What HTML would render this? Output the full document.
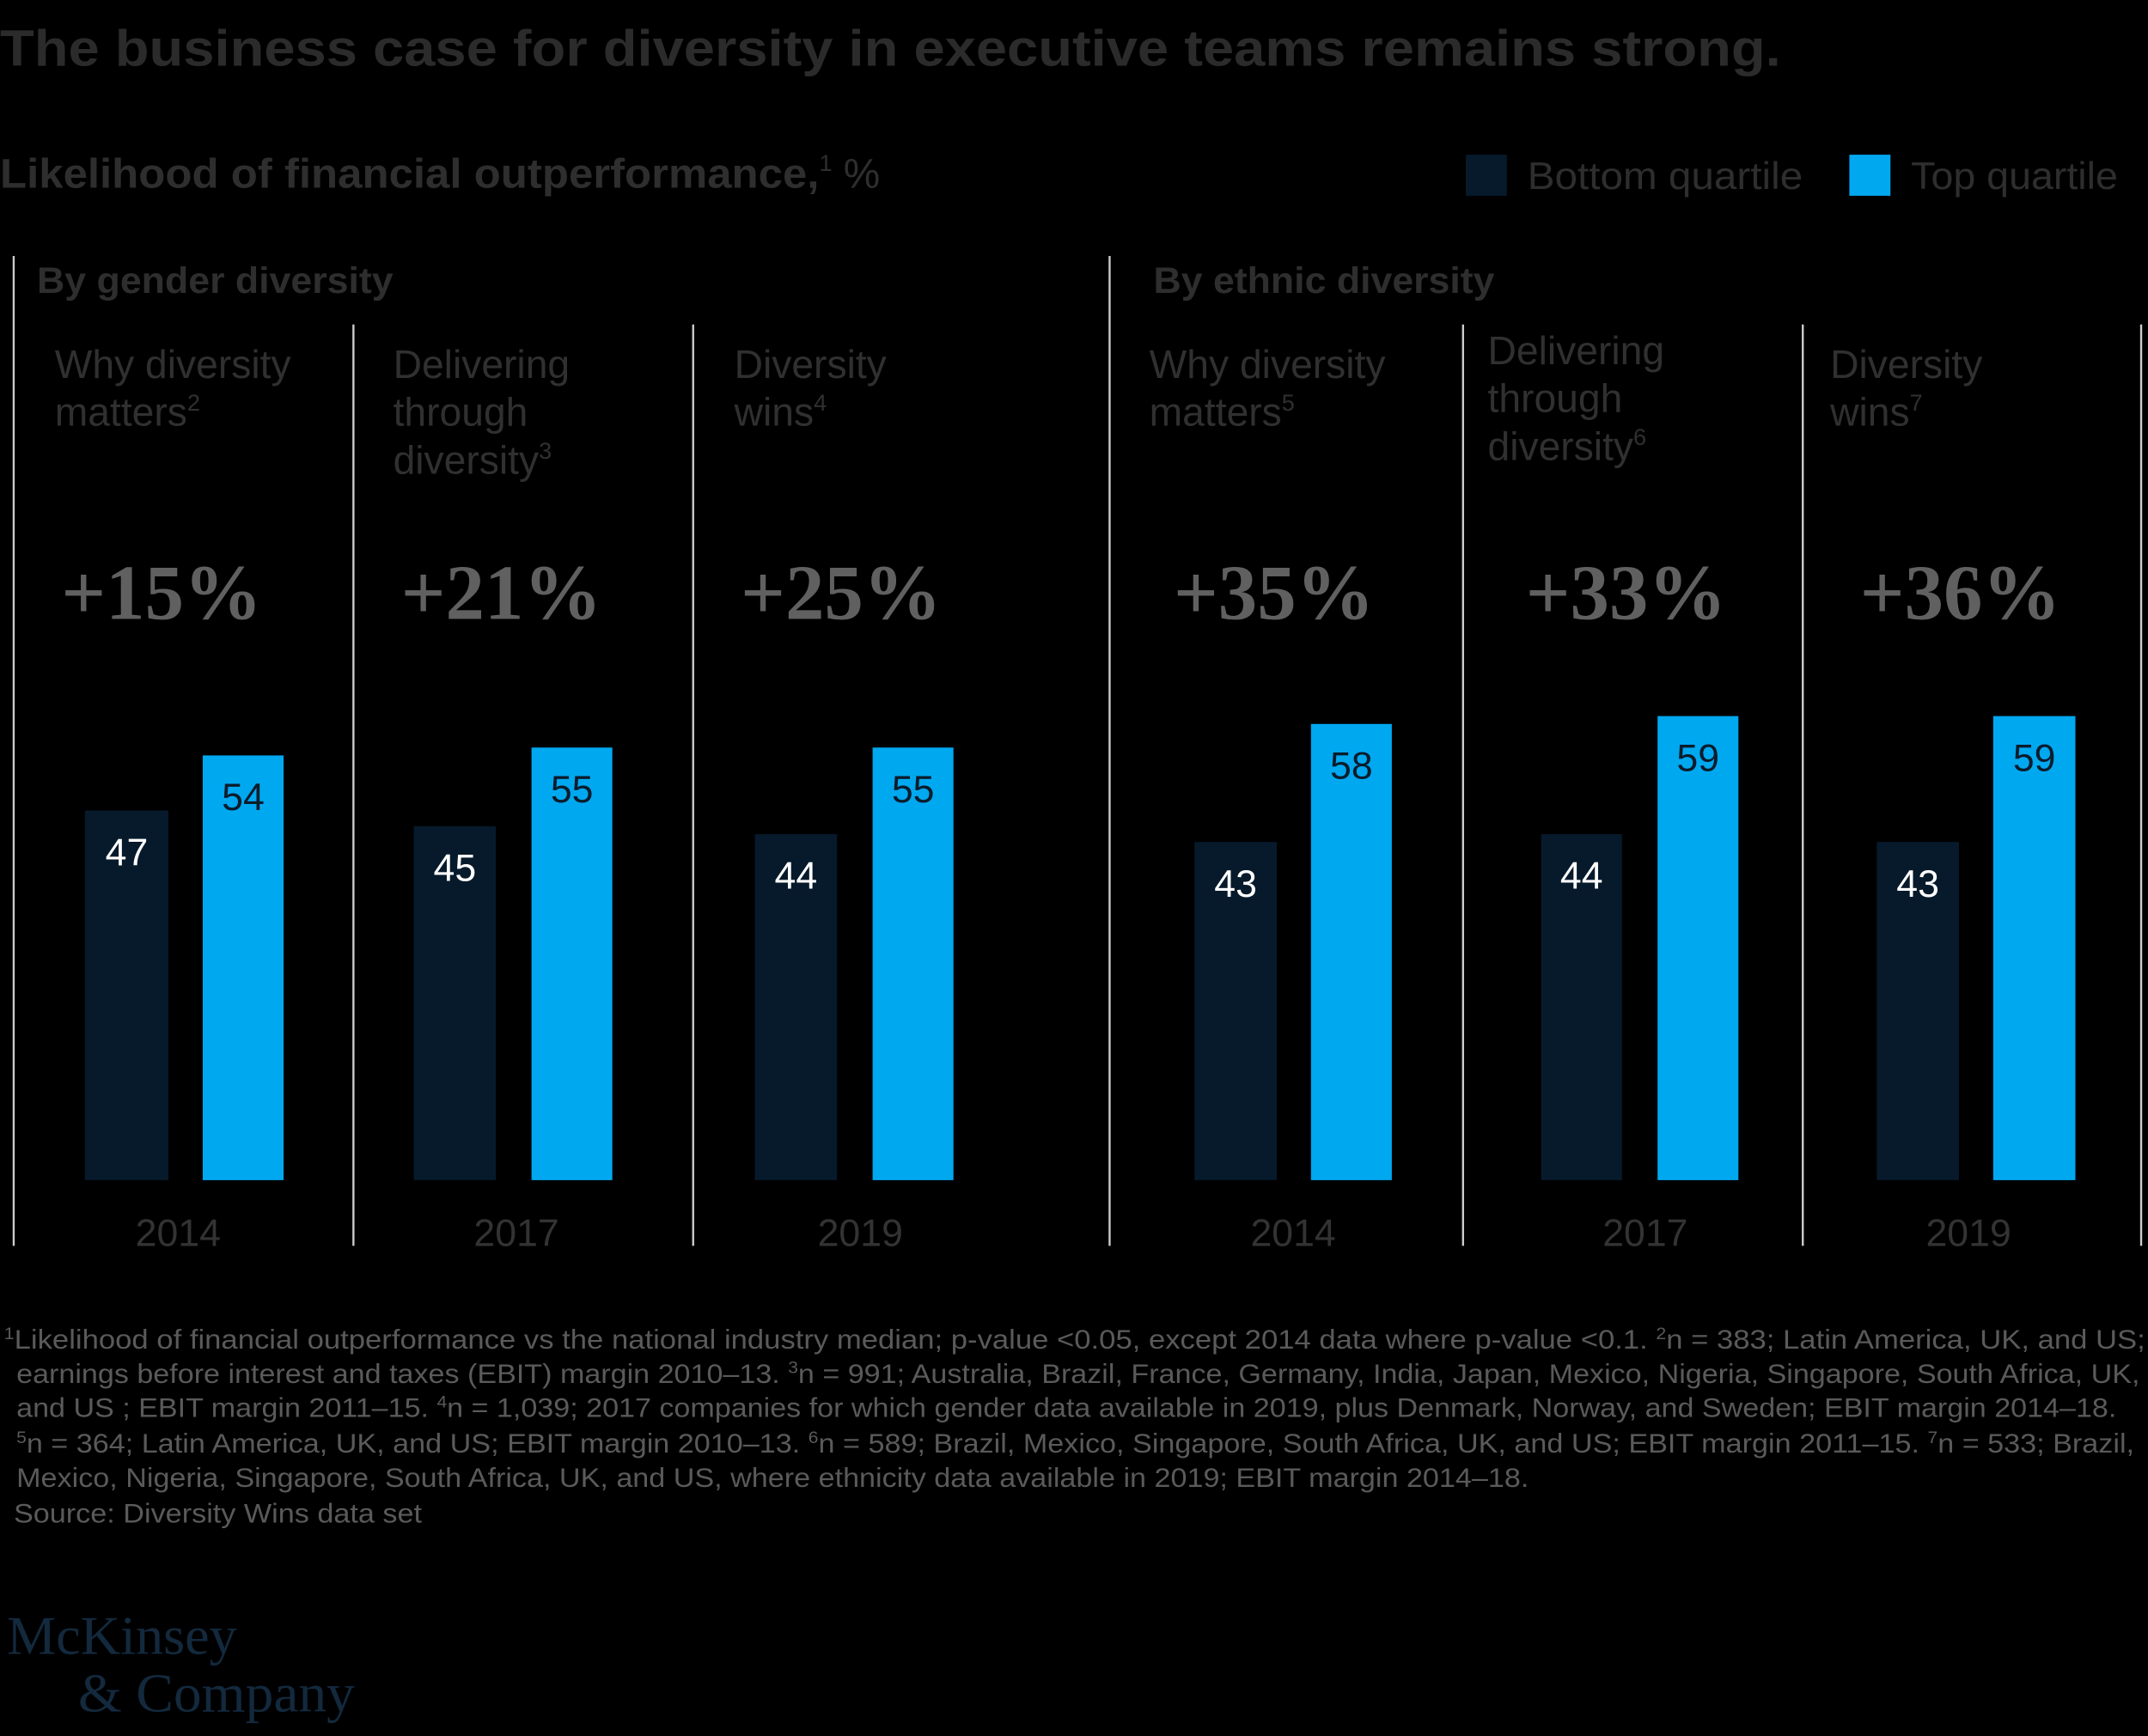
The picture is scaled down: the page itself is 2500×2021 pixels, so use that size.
<!DOCTYPE html>
<html><head><meta charset="utf-8"><style>
html,body{margin:0;padding:0;background:#000;}
svg{display:block;}
</style></head><body>
<svg id="chart" width="2500" height="2021" viewBox="0 0 1568 1268" preserveAspectRatio="none" xmlns="http://www.w3.org/2000/svg" font-family="'Liberation Sans', sans-serif">
<rect width="1568" height="1268" fill="#000"/>
<text x="0" y="48" font-size="37" font-weight="bold" fill="#2b2b2b" textLength="1300" lengthAdjust="spacingAndGlyphs">The business case for diversity in executive teams remains strong.</text>
<text x="0" y="137" font-size="30" font-weight="bold" fill="#2e2e2e"><tspan textLength="598" lengthAdjust="spacingAndGlyphs">Likelihood of financial outperformance,</tspan><tspan font-size="17" font-weight="normal" dy="-12">1</tspan><tspan font-weight="normal" dy="12"> %</tspan></text>
<g>
<rect x="1070" y="113" width="30" height="30" fill="#061a2b"/>
<text x="1115" y="138" font-size="28" fill="#2e2e2e" textLength="201" lengthAdjust="spacingAndGlyphs">Bottom quartile</text>
<rect x="1350" y="113" width="30" height="30" fill="#00a8f0"/>
<text x="1395" y="138" font-size="28" fill="#2e2e2e" textLength="151" lengthAdjust="spacingAndGlyphs">Top quartile</text>
</g>
<text x="27" y="214" font-size="27" font-weight="bold" fill="#2e2e2e" textLength="260" lengthAdjust="spacingAndGlyphs">By gender diversity</text>
<text x="842" y="214" font-size="27" font-weight="bold" fill="#2e2e2e" textLength="249" lengthAdjust="spacingAndGlyphs">By ethnic diversity</text>
<g id="dividers"></g>
<g id="panels"></g>
<g font-size="19.5" fill="#5a5a5a">
<text x="3" y="985" textLength="1563" lengthAdjust="spacingAndGlyphs"><tspan font-size="12" dy="-7">1</tspan><tspan dy="7">Likelihood of financial outperformance vs the national industry median; p-value &lt;0.05, except 2014 data where p-value &lt;0.1.  </tspan><tspan font-size="12" dy="-7">2</tspan><tspan dy="7">n = 383; Latin America, UK, and US;</tspan></text>
<text x="12" y="1010" textLength="1550" lengthAdjust="spacingAndGlyphs">earnings before interest and taxes (EBIT) margin 2010–13. <tspan font-size="12" dy="-7">3</tspan><tspan dy="7">n = 991; Australia, Brazil, France, Germany, India, Japan, Mexico, Nigeria, Singapore, South Africa, UK,</tspan></text>
<text x="12" y="1035" textLength="1533" lengthAdjust="spacingAndGlyphs">and US ; EBIT margin 2011–15. <tspan font-size="12" dy="-7">4</tspan><tspan dy="7">n = 1,039; 2017 companies for which gender data available in 2019, plus Denmark, Norway, and Sweden;  EBIT margin 2014–18.</tspan></text>
<text x="12" y="1061" textLength="1546" lengthAdjust="spacingAndGlyphs"><tspan font-size="12" dy="-7">5</tspan><tspan dy="7">n = 364; Latin America, UK, and US; EBIT margin 2010–13. </tspan><tspan font-size="12" dy="-7">6</tspan><tspan dy="7">n = 589; Brazil, Mexico, Singapore, South Africa, UK, and US; EBIT margin 2011–15. </tspan><tspan font-size="12" dy="-7">7</tspan><tspan dy="7">n = 533; Brazil,</tspan></text>
<text x="12" y="1086" textLength="1104" lengthAdjust="spacingAndGlyphs">Mexico, Nigeria, Singapore, South Africa, UK, and US, where ethnicity data available in 2019; EBIT margin 2014–18.</text>
<text x="10" y="1112" textLength="298" lengthAdjust="spacingAndGlyphs">Source: Diversity Wins data set</text>
</g>
<g font-family="'Liberation Serif', serif" font-size="40" fill="#13293d">
<text x="5" y="1208" textLength="168" lengthAdjust="spacingAndGlyphs">McKinsey</text>
<text x="57" y="1250" textLength="202" lengthAdjust="spacingAndGlyphs">&amp; Company</text>
</g>
</svg>
<script>
const panelTitles = [["Why diversity","matters","2"],["Delivering","through","diversity","3"],["Diversity","wins","4"],["Why diversity","matters","5"],["Delivering","through","diversity","6"],["Diversity","wins","7"]];
const years = ["2014","2017","2019","2014","2017","2019"];
const uplift = ["+15%","+21%","+25%","+35%","+33%","+36%"];
const bottomQuartile = [47,45,44,43,44,43];
const topQuartile = [54,55,55,58,59,59];

const NS = "http://www.w3.org/2000/svg";
const panelLeft = [10,258,506,810,1068,1316];
const baseY = 862, pxPerUnit = 5.745;
function yScale(v){ return baseY - v * pxPerUnit; }
function mk(tag, attrs, parent){ const e=document.createElementNS(NS,tag); for(const k in attrs) e.setAttribute(k,attrs[k]); parent.appendChild(e); return e; }

const dv = document.getElementById('dividers');
[[10,187],[258,237],[506,237],[810,187],[1068,237],[1316,237],[1563,237]].forEach(function(d){
  const l = mk('line',{x1:d[0],x2:d[0],y1:d[1],y2:910,stroke:'#cccccc','stroke-width':1.5},dv);
  
  
});

const pg = document.getElementById('panels');
const barOffsets = [[52,113,138,197],[44,104,130,189],[45,105,131,190],[62,122,147,206],[57,116,142,201],[54,114,139,199]];
const titleX = [40,287,536,839,1086,1336];
const upliftX = [118,366,614,930,1187,1431];
const yearX = [130,377,628,944,1201,1437];
for (let i=0;i<6;i++){
  const g = mk('g',{},pg);
  
  
  const lines = panelTitles[i];
  const n = lines.length-1;
  const startY = n===3 && i>=3 ? 266 : 276;
  const t = mk('text',{x:titleX[i],y:startY,'font-size':29,fill:'#303030'},g);
  
  
  for (let j=0;j<n;j++){
    const ts = mk('tspan',{x:titleX[i],y:startY+35*j},t);
    ts.textContent = lines[j];
  }
  const sup = mk('tspan',{'font-size':17,dy:-11},t);
  sup.textContent = lines[n];
  const u = mk('text',{x:upliftX[i],y:452,'font-size':57,'font-weight':'bold','font-family':"'Liberation Serif', serif",fill:'#606060','text-anchor':'middle'},g);
  
  
  u.textContent = uplift[i];
  const L = panelLeft[i], o = barOffsets[i];
  const bx = L+o[0], bw = o[1]-o[0], tx = L+o[2], tw = o[3]-o[2];
  const yb = yScale(bottomQuartile[i]), yt = yScale(topQuartile[i]);
  const rb = mk('rect',{x:bx,y:yb,width:bw,height:baseY-yb,fill:'#061a2b'},g);
  
  
  const rt = mk('rect',{x:tx,y:yt,width:tw,height:baseY-yt,fill:'#00a8f0'},g);
  
  
  const lb = mk('text',{x:bx+bw/2,y:yb+40,'font-size':28,fill:'#ffffff','text-anchor':'middle'},g);
  
  
  lb.textContent = bottomQuartile[i];
  const lt = mk('text',{x:tx+tw/2,y:yt+40,'font-size':28,fill:'#0b1c2c','text-anchor':'middle'},g);
  
  
  lt.textContent = topQuartile[i];
  const yr = mk('text',{x:yearX[i],y:910,'font-size':28,fill:'#333333','text-anchor':'middle'},g);
  
  
  yr.textContent = years[i];
}
</script>
</body></html>
